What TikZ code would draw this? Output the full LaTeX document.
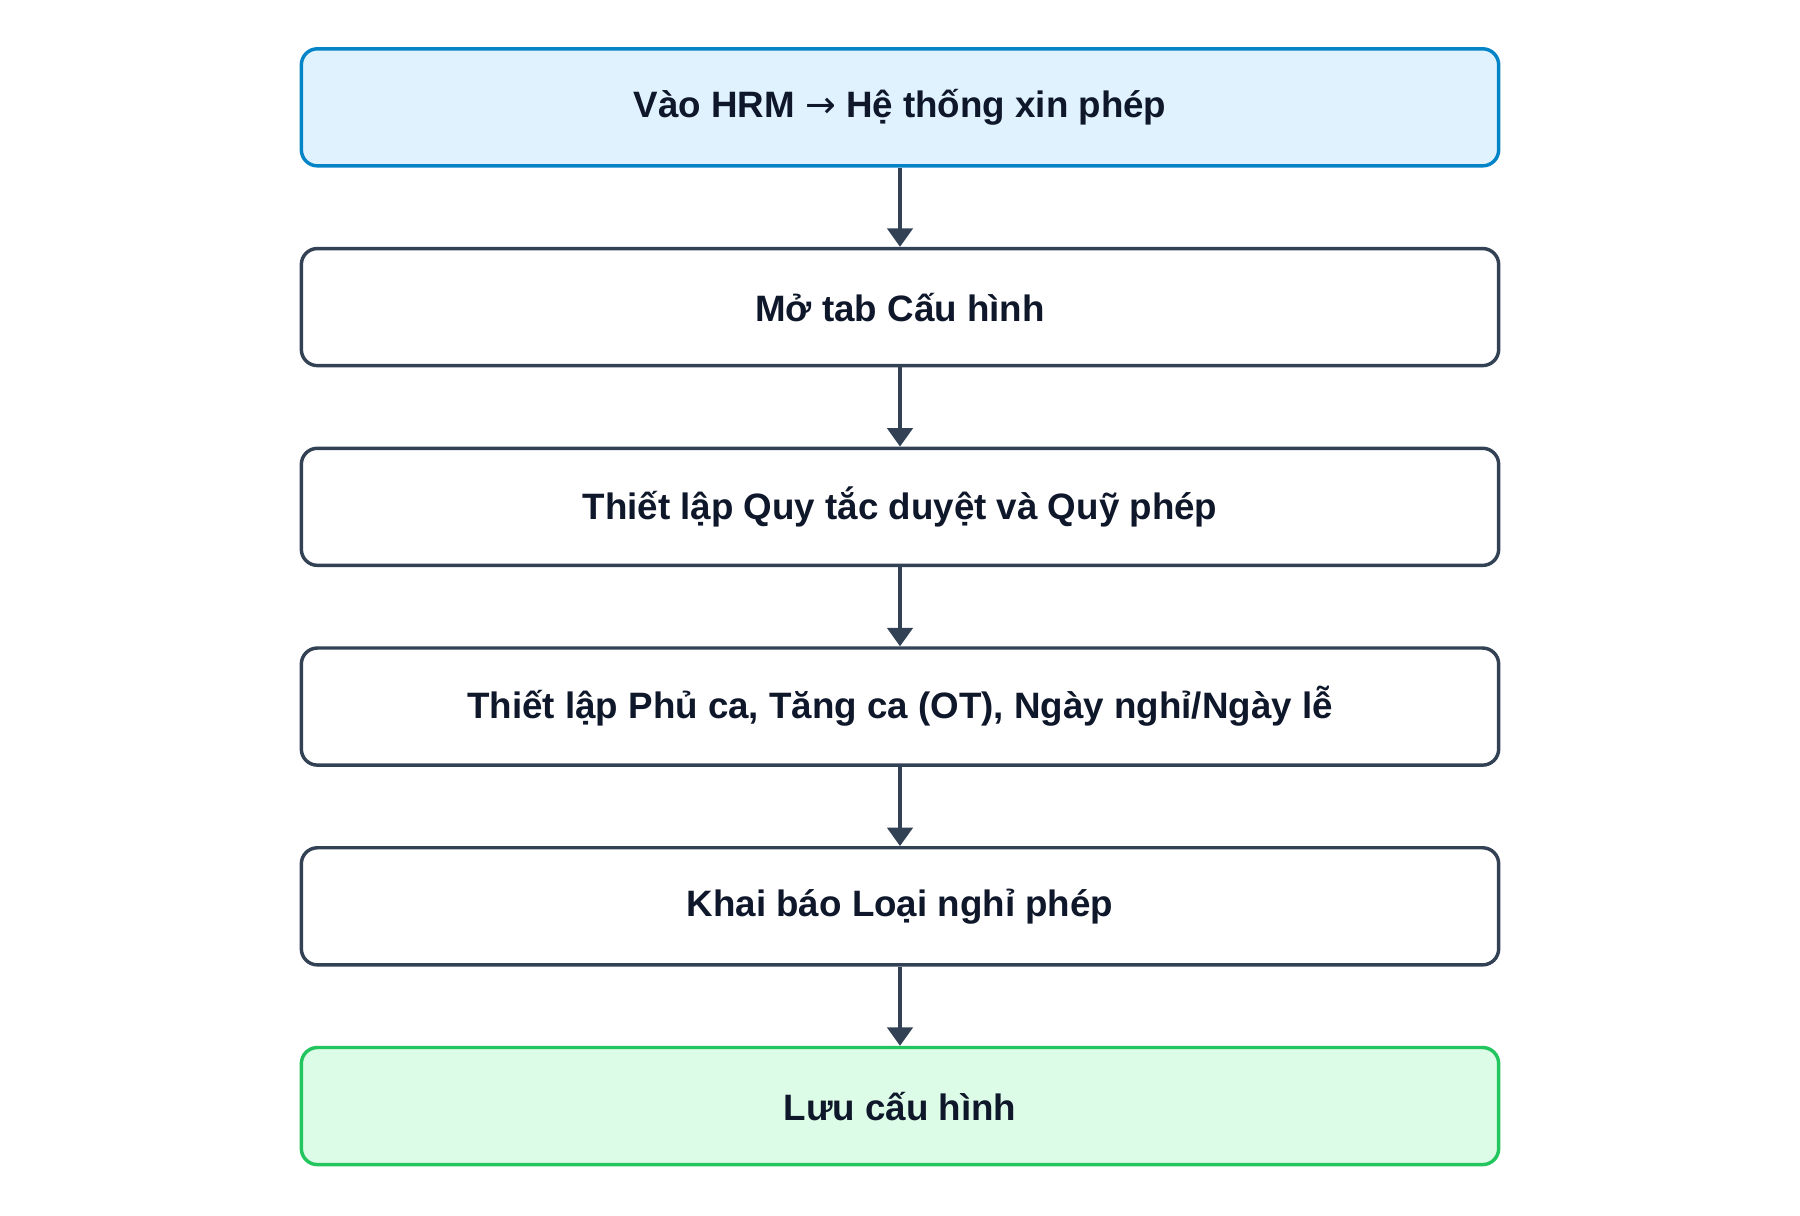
\documentclass[tikz,border=0pt]{standalone}
\usepackage{fontspec}
\setmainfont{Liberation Sans}
\newfontfamily\arrowfont{DejaVu Sans}
\usetikzlibrary{positioning,arrows.meta}
\definecolor{edge}{HTML}{334155}
\definecolor{ink}{HTML}{0F172A}
\definecolor{startfill}{HTML}{E0F2FE}
\definecolor{startline}{HTML}{0284C7}
\definecolor{endfill}{HTML}{DCFCE7}
\definecolor{endline}{HTML}{22C55E}
\tikzset{
  stepbox/.style = {draw = edge, line width = 3pt, rounded corners = 14pt, fill = white,
    minimum width = 1043pt, minimum height = 102pt, text = ink,
    font = \fontsize{32}{38}\selectfont\bfseries},
  flow/.style = {draw = edge, line width = 3pt, -{Triangle[length = 16pt, width = 22pt]}}
}
\begin{document}
\begin{tikzpicture}[x = 1pt, y = -1pt, node distance = 69pt]
\useasboundingbox (0,0) rectangle (1568,1059);
\node[stepbox, fill = startfill, draw = startline] (hrm) at (784,93.5) {Vào HRM {\arrowfont\mdseries →} Hệ thống xin phép};
\node[stepbox, below = of hrm] (tab) {Mở tab Cấu hình};
\node[stepbox, below = of tab] (rule) {Thiết lập Quy tắc duyệt và Quỹ phép};
\node[stepbox, below = of rule] (shift) {Thiết lập Phủ ca, Tăng ca (OT), Ngày nghỉ/Ngày lễ};
\node[stepbox, below = of shift] (kind) {Khai báo Loại nghỉ phép};
\node[stepbox, fill = endfill, draw = endline, below = of kind] (save) {Lưu cấu hình};
\foreach \a/\b in {hrm/tab, tab/rule, rule/shift, shift/kind, kind/save}
  \draw[flow] (\a) -- (\b);
\end{tikzpicture}
\end{document}
